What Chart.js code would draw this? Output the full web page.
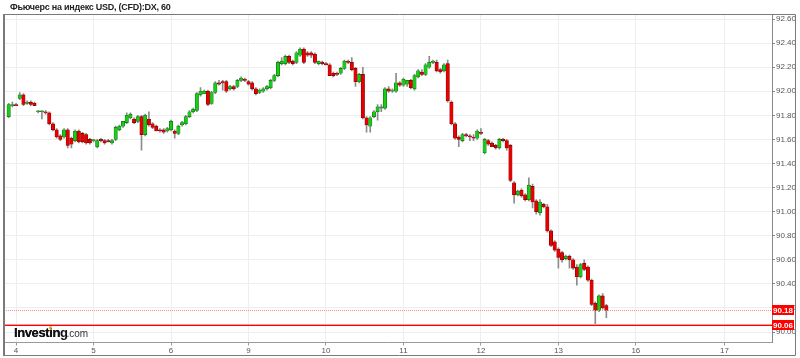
<!DOCTYPE html>
<html>
<head>
<meta charset="utf-8">
<script src="https://cdn.jsdelivr.net/npm/chart.js@4/dist/chart.umd.min.js"></script>
<style>
html,body{margin:0;padding:0;background:#fff;}
canvas{display:block;}
</style>
</head>
<body>
<canvas id="c" width="800" height="358"></canvas>
<script>
// Hourly candles (USD index futures)
const openVals = [
91.79,91.88,91.89,91.94,91.97,91.90,91.91,91.90,91.83,91.83,
91.83,91.82,91.73,91.68,91.63,91.62,91.68,91.61,91.59,91.67,
91.65,91.64,91.60,91.59,91.54,91.60,91.59,91.59,91.57,91.60,
91.68,91.71,91.74,91.78,91.77,91.75,91.79,91.64,91.77,91.73,
91.71,91.68,91.68,91.67,91.68,91.67,91.65,91.72,91.73,91.79,
91.83,91.84,91.97,91.98,92.00,91.90,91.99,92.07,92.08,92.08,
92.02,92.04,92.04,92.09,92.10,92.08,92.07,92.02,91.99,92.00,
92.02,92.03,92.09,92.13,92.23,92.23,92.29,92.25,92.24,92.30,
92.35,92.32,92.32,92.31,92.23,92.24,92.23,92.22,92.15,92.15,
92.15,92.19,92.25,92.24,92.19,92.08,92.14,91.78,91.71,91.79,
91.83,91.86,91.86,92.02,92.00,92.00,92.07,92.05,92.06,92.09,
92.02,92.12,92.16,92.14,92.20,92.24,92.24,92.18,92.17,92.23,
91.91,91.73,91.62,91.59,91.64,91.63,91.62,91.61,91.66,91.49,
91.59,91.57,91.55,91.53,91.60,91.59,91.55,91.24,91.14,91.18,
91.14,91.10,91.21,91.09,90.99,91.06,91.04,90.84,90.75,90.69,
90.66,90.61,90.63,90.60,90.54,90.46,90.57,90.54,90.43,90.24,
90.18,90.30,90.22
];
const highVals = [
91.90,91.91,91.90,91.99,91.98,91.92,91.92,91.91,91.84,91.84,
91.84,91.83,91.74,91.69,91.64,91.69,91.69,91.62,91.68,91.68,
91.66,91.65,91.61,91.60,91.60,91.61,91.60,91.60,91.60,91.71,
91.72,91.75,91.82,91.82,91.78,91.80,91.80,91.81,91.83,91.74,
91.72,91.69,91.69,91.70,91.76,91.68,91.72,91.75,91.80,91.84,
91.86,91.99,92.03,92.01,92.01,92.00,92.08,92.09,92.09,92.09,
92.05,92.05,92.10,92.12,92.11,92.09,92.08,92.03,92.02,92.03,
92.05,92.10,92.14,92.25,92.28,92.30,92.30,92.26,92.33,92.36,
92.36,92.33,92.33,92.32,92.25,92.25,92.24,92.23,92.16,92.16,
92.20,92.26,92.26,92.28,92.20,92.15,92.20,91.79,91.79,91.84,
91.89,91.89,92.03,92.04,92.02,92.15,92.08,92.11,92.09,92.10,
92.14,92.18,92.18,92.23,92.29,92.26,92.26,92.19,92.23,92.26,
91.92,91.74,91.63,91.65,91.65,91.64,91.64,91.68,91.69,91.61,
91.60,91.58,91.56,91.61,91.61,91.60,91.56,91.25,91.18,91.19,
91.15,91.28,91.23,91.10,91.10,91.07,91.06,90.85,90.76,90.70,
90.67,90.64,90.64,90.61,90.56,90.57,90.60,90.55,90.44,90.25,
90.31,90.32,90.23
];
const lowVals = [
91.78,91.87,91.88,91.93,91.88,91.89,91.88,91.88,91.82,91.77,
91.81,91.72,91.67,91.61,91.59,91.61,91.53,91.53,91.58,91.57,
91.57,91.56,91.56,91.58,91.53,91.58,91.56,91.58,91.56,91.59,
91.67,91.70,91.73,91.77,91.73,91.74,91.51,91.63,91.71,91.69,
91.67,91.66,91.65,91.66,91.67,91.61,91.64,91.71,91.72,91.78,
91.82,91.83,91.96,91.98,91.88,91.89,91.98,92.05,92.01,91.99,
92.01,92.01,92.03,92.08,92.08,92.05,92.01,91.97,91.98,91.99,
92.01,92.02,92.08,92.12,92.22,92.22,92.23,92.22,92.23,92.29,
92.23,92.29,92.28,92.23,92.22,92.22,92.22,92.13,92.12,92.13,
92.14,92.18,92.23,92.17,92.04,92.07,91.77,91.66,91.66,91.78,
91.76,91.83,91.85,91.99,91.99,91.99,92.04,92.04,92.04,92.02,
92.01,92.11,92.13,92.13,92.19,92.23,92.16,92.15,92.16,91.91,
91.72,91.60,91.54,91.58,91.62,91.59,91.59,91.60,91.64,91.48,
91.55,91.54,91.52,91.52,91.58,91.51,91.25,91.07,91.13,91.12,
91.09,91.09,91.03,90.98,90.97,91.03,90.83,90.71,90.67,90.53,
90.58,90.60,90.53,90.52,90.39,90.45,90.51,90.42,90.22,90.06,
90.17,90.19,90.12
];
const closeVals = [
91.89,91.89,91.88,91.97,91.89,91.91,91.89,91.88,91.83,91.83,
91.82,91.73,91.68,91.62,91.60,91.68,91.55,91.56,91.67,91.58,
91.58,91.57,91.57,91.59,91.59,91.59,91.57,91.58,91.59,91.70,
91.71,91.75,91.80,91.81,91.74,91.79,91.64,91.80,91.72,91.70,
91.67,91.67,91.66,91.69,91.75,91.65,91.71,91.74,91.79,91.83,
91.85,91.98,92.00,92.00,91.89,91.99,92.07,92.06,92.07,92.00,
92.04,92.02,92.09,92.11,92.09,92.06,92.02,91.98,92.01,92.02,
92.04,92.09,92.13,92.24,92.25,92.29,92.24,92.23,92.32,92.35,
92.24,92.30,92.30,92.24,92.25,92.23,92.22,92.13,92.13,92.14,
92.19,92.25,92.24,92.18,92.08,92.14,91.78,91.72,91.78,91.83,
91.87,91.87,92.02,92.00,92.01,92.07,92.05,92.10,92.09,92.03,
92.13,92.17,92.14,92.22,92.24,92.25,92.17,92.16,92.22,91.92,
91.73,91.61,91.60,91.64,91.63,91.62,91.61,91.67,91.65,91.60,
91.56,91.54,91.53,91.60,91.59,91.53,91.26,91.14,91.17,91.13,
91.10,91.22,91.08,91.00,91.08,91.04,90.84,90.72,90.68,90.62,
90.60,90.63,90.60,90.53,90.46,90.56,90.52,90.43,90.23,90.18,
90.30,90.20,90.18
];
// Day labels and the bar index where each day starts
const dayLabels = ['4','5','6','9','10','11','12','13','16','17'];
const dayTickIndex = [2, 23, 44, 65, 86, 107, 128, 149, 170, 194];
// Price axis ticks
const yTickVals = [90.0,90.2,90.4,90.6,90.8,91.0,91.2,91.4,91.6,91.8,92.0,92.2,92.4,92.6];
// Marked price levels
const lastPrice = 90.18;
const lowPrice = 90.06;
const titleText = 'Фьючерс на индекс USD, (CFD):DX, 60';

const GREEN = '#18cc18', GREEN_B = '#137013';
const RED = '#e80000', RED_B = '#7a0000';

const wickData = closeVals.map((c, i) => ({x: i, y: [lowVals[i], highVals[i]]}));
const bodyData = closeVals.map((c, i) => ({x: i, y: [openVals[i], c]}));
const bodyFill = closeVals.map((c, i) => c >= openVals[i] ? GREEN : RED);
const bodyBorder = closeVals.map((c, i) => c >= openVals[i] ? GREEN_B : RED_B);

const FONT = "'Liberation Sans', Arial, sans-serif";

const extras = {
  id: 'extras',
  beforeDraw(chart) {
    const ctx = chart.ctx;
    ctx.save();
    ctx.fillStyle = '#fff';
    ctx.fillRect(0, 0, chart.width, chart.height);
    ctx.restore();
  },
  afterDatasetsDraw(chart) {
    const ctx = chart.ctx, a = chart.chartArea, y = chart.scales.y;
    ctx.save();
    // dotted last-price line
    const yl = Math.round(y.getPixelForValue(lastPrice)) + 0.5;
    ctx.strokeStyle = '#ff8a8a';
    ctx.lineWidth = 1;
    ctx.setLineDash([1, 1]);
    ctx.beginPath(); ctx.moveTo(a.left, yl); ctx.lineTo(a.right, yl); ctx.stroke();
    ctx.setLineDash([]);
    // solid low line
    const ys = y.getPixelForValue(lowPrice);
    ctx.strokeStyle = '#ff9a9a';
    ctx.beginPath(); ctx.moveTo(a.left, Math.round(ys) - 0.5); ctx.lineTo(a.right, Math.round(ys) - 0.5); ctx.stroke();
    ctx.strokeStyle = '#ff0000';
    ctx.beginPath(); ctx.moveTo(a.left, Math.round(ys) + 0.5); ctx.lineTo(a.right, Math.round(ys) + 0.5); ctx.stroke();
    // logo
    ctx.fillStyle = '#111';
    ctx.textBaseline = 'alphabetic';
    ctx.font = 'bold 13px ' + FONT;
    try { ctx.letterSpacing = '-0.4px'; } catch (e) {}
    ctx.fillText('Investin', 14, 336.5);
    const wi = ctx.measureText('Investi').width;
    ctx.fillText('Investing', 14, 336.5);
    const w = ctx.measureText('Investing').width;
    try { ctx.letterSpacing = '0px'; } catch (e) {}
    ctx.fillStyle = '#f0a020';
    ctx.fillRect(14 + wi - 3.2, 326.3, 2.6, 2.6);
    ctx.font = '10px ' + FONT;
    ctx.fillStyle = '#333';
    ctx.fillText('.com', 14 + w - 1, 336.5);
    ctx.restore();
  },
  afterDraw(chart) {
    const ctx = chart.ctx, a = chart.chartArea, y = chart.scales.y;
    ctx.save();
    // price boxes
    ctx.font = 'bold 8px ' + FONT;
    ctx.textAlign = 'center';
    ctx.textBaseline = 'middle';
    [lastPrice, lowPrice].forEach(v => {
      const py = Math.round(y.getPixelForValue(v));
      ctx.fillStyle = '#ff0000';
      ctx.fillRect(a.right, py - 5, 22, 10);
      ctx.fillStyle = '#fff';
      ctx.fillText(v.toFixed(2), a.right + 11, py + 0.5);
    });
    // frame
    ctx.strokeStyle = '#7a7a7a';
    ctx.lineWidth = 1;
    ctx.beginPath();
    ctx.moveTo(3.5, 14.5); ctx.lineTo(795.5, 14.5);
    ctx.moveTo(795.5, 14.5); ctx.lineTo(795.5, 355.5);
    ctx.moveTo(3, 355.5); ctx.lineTo(795.5, 355.5);
    ctx.stroke();
    ctx.lineWidth = 2;
    ctx.beginPath(); ctx.moveTo(4, 14); ctx.lineTo(4, 356); ctx.stroke();
    // title
    ctx.fillStyle = '#222';
    ctx.font = 'bold 9px ' + FONT;
    try { ctx.letterSpacing = '-0.25px'; } catch (e) {}
    ctx.textAlign = 'left';
    ctx.textBaseline = 'alphabetic';
    ctx.fillText(titleText, 10, 10);
    ctx.restore();
  }
};

new Chart(document.getElementById('c'), {
  type: 'bar',
  data: {
    datasets: [
      {label: 'wick', data: wickData, backgroundColor: '#8c8c8c', barThickness: 1,
       grouped: false, order: 2, borderWidth: 0},
      {label: 'body', data: bodyData, backgroundColor: bodyFill, borderColor: bodyBorder,
       borderWidth: 0.6, borderSkipped: false, barThickness: 3.4, grouped: false, order: 1, minBarLength: 1}
    ]
  },
  options: {
    responsive: false,
    animation: false,
    devicePixelRatio: 1,
    layout: {padding: {top: 14, left: 4, right: 0, bottom: 0}},
    plugins: {legend: {display: false}, tooltip: {enabled: false}, title: {display: false}},
    scales: {
      x: {
        type: 'linear',
        offset: false,
        min: -1.27, max: 206.9,
        afterBuildTicks(scale) { scale.ticks = dayTickIndex.map(v => ({value: v})); },
        afterFit(scale) { scale.height = 15.5; },
        ticks: {
          autoSkip: false, maxRotation: 0, padding: 0,
          color: '#555', font: {family: FONT, size: 8},
          callback(value) { const k = dayTickIndex.indexOf(value); return k >= 0 ? dayLabels[k] : ''; }
        },
        grid: {offset: false, color: '#eeeeee', tickColor: '#9a9a9a', tickLength: 3},
        border: {color: '#9a9a9a'}
      },
      y: {
        position: 'right',
        min: 89.913, max: 92.642,
        afterBuildTicks(scale) { scale.ticks = yTickVals.map(v => ({value: v})); },
        afterFit(scale) { scale.width = 28; },
        ticks: {
          padding: 1, color: '#555', font: {family: FONT, size: 8},
          callback(value) { return Number(value).toFixed(2); }
        },
        grid: {color: '#eeeeee', tickColor: '#888', tickLength: 3},
        border: {color: '#888'}
      }
    }
  },
  plugins: [extras]
});
</script>
</body>
</html>
